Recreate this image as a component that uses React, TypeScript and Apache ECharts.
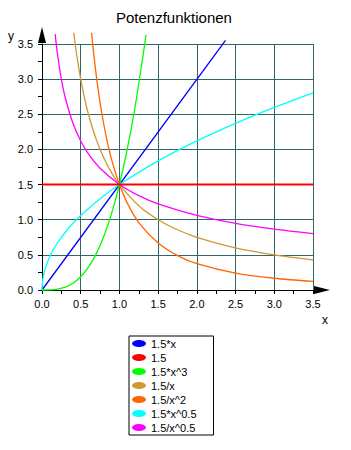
import React, { useEffect, useRef } from "react";
import * as echarts from "echarts";

const titleText = "Potenzfunktionen";
const seriesNames = ["1.5*x", "1.5", "1.5*x^3", "1.5/x", "1.5/x^2", "1.5*x^0.5", "1.5/x^0.5"];
const seriesColors = ["#0000ff", "#ff0000", "#00ff00", "#cc9933", "#ff6600", "#00ffff", "#ff00ff"];
const seriesWidths = [1.3, 2, 1.3, 1.3, 1.3, 1.3, 1.3];

const linX = [0, 2.37];
const linY = [0, 3.55];

const constX = [0, 3.5];
const constY = [1.5, 1.5];

const cubeX = [0, 0.1, 0.2, 0.3, 0.4, 0.5, 0.6, 0.7, 0.8, 0.9, 1.0, 1.1, 1.2, 1.3, 1.343];
const cubeY = [0, 0.0015, 0.012, 0.0405, 0.096, 0.1875, 0.324, 0.5145, 0.768, 1.0935, 1.5, 1.9965, 2.592, 3.2955, 3.63];

const invX = [0.41, 0.45, 0.5, 0.55, 0.6, 0.7, 0.8, 0.9, 1.0, 1.25, 1.5, 1.75, 2.0, 2.5, 3.0, 3.5];
const invY = [3.66, 3.333, 3.0, 2.727, 2.5, 2.143, 1.875, 1.667, 1.5, 1.2, 1.0, 0.857, 0.75, 0.6, 0.5, 0.429];

const invSqX = [0.64, 0.67, 0.7, 0.75, 0.8, 0.85, 0.9, 1.0, 1.1, 1.25, 1.5, 1.75, 2.0, 2.5, 3.0, 3.5];
const invSqY = [3.66, 3.341, 3.061, 2.667, 2.344, 2.076, 1.852, 1.5, 1.24, 0.96, 0.667, 0.49, 0.375, 0.24, 0.167, 0.122];

const sqrtX = [0, 0.01, 0.03, 0.06, 0.1, 0.15, 0.2, 0.3, 0.4, 0.5, 0.75, 1.0, 1.5, 2.0, 2.5, 3.0, 3.5];
const sqrtY = [0, 0.15, 0.26, 0.367, 0.474, 0.581, 0.671, 0.822, 0.949, 1.061, 1.299, 1.5, 1.837, 2.121, 2.372, 2.598, 2.806];

const invSqrtX = [0.17, 0.2, 0.25, 0.3, 0.4, 0.5, 0.6, 0.75, 1.0, 1.25, 1.5, 2.0, 2.5, 3.0, 3.5];
const invSqrtY = [3.64, 3.354, 3.0, 2.739, 2.372, 2.121, 1.936, 1.732, 1.5, 1.342, 1.225, 1.061, 0.949, 0.866, 0.802];

const allX = [linX, constX, cubeX, invX, invSqX, sqrtX, invSqrtX];
const allY = [linY, constY, cubeY, invY, invSqY, sqrtY, invSqrtY];

const FONT = "'Liberation Sans', Arial, sans-serif";
const ELLIPSE = "path://M0,3.5A7,3.5,0,1,1,14,3.5A7,3.5,0,1,1,0,3.5Z";

export default function App() {
  const ref = useRef<HTMLDivElement>(null);
  useEffect(() => {
    document.body.style.margin = "0";
    const chart = echarts.init(ref.current!, undefined, { renderer: "svg" });
    const axisCommon = {
      type: "value" as const,
      min: 0,
      max: 3.5,
      interval: 0.5,
      axisLine: {
        show: true,
        onZero: false,
        lineStyle: { color: "#000", width: 1 },
        symbol: ["none", "triangle"],
        symbolSize: [8, 16],
        symbolOffset: [0, 9],
      },
      axisTick: { show: true, length: 4, lineStyle: { color: "#000" } },
      minorTick: { show: true, splitNumber: 2, length: 4, lineStyle: { color: "#000" } },
      splitLine: { show: true, lineStyle: { color: "#336666", width: 1 } },
      axisLabel: {
        color: "#000",
        fontSize: 11,
        fontFamily: FONT,
        margin: 8,
        formatter: (v: number) => v.toFixed(1),
      },
    };
    chart.setOption({
      animation: false,
      backgroundColor: "#fff",
      textStyle: { fontFamily: FONT },
      title: {
        text: titleText,
        left: 111,
        top: 5,
        textStyle: { fontSize: 15, fontWeight: "normal", color: "#000", fontFamily: FONT },
      },
      grid: { left: 42, top: 44, right: 38, bottom: 160, containLabel: false },
      xAxis: { ...axisCommon },
      yAxis: { ...axisCommon, axisLabel: { ...axisCommon.axisLabel, margin: 9 } },
      legend: {
        orient: "vertical",
        left: 129,
        top: 336,
        padding: [1, 17, 1, 3],
        borderColor: "#000",
        borderWidth: 1,
        itemWidth: 14,
        itemHeight: 7,
        itemGap: 1,
        icon: ELLIPSE,
        textStyle: { fontSize: 11, color: "#000", fontFamily: FONT, lineHeight: 13 },
        data: seriesNames,
      },
      graphic: [
        { type: "text", left: 322, top: 314, style: { text: "x", fontSize: 12, fontFamily: FONT, fill: "#000" } },
        { type: "text", left: 8, top: 30, style: { text: "y", fontSize: 12, fontFamily: FONT, fill: "#000" } },
      ],
      series: seriesNames.map((name, i) => ({
        name,
        type: "line",
        data: allX[i].map((x, j) => [x, allY[i][j]]),
        smooth: 0.3,
        showSymbol: false,
        clip: false,
        color: seriesColors[i],
        lineStyle: { color: seriesColors[i], width: seriesWidths[i] },
        z: i === 1 ? 3 : 2,
      })),
    });
    return () => chart.dispose();
  }, []);
  return <div ref={ref} style={{ width: 351, height: 450 }} />;
}
